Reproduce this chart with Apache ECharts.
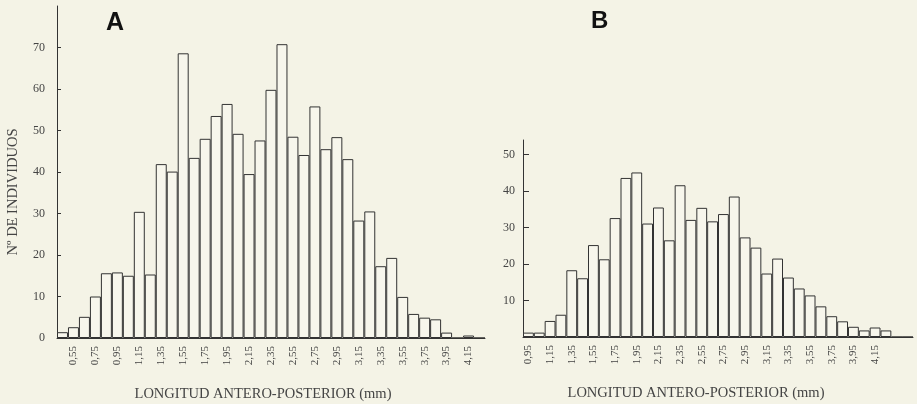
<!DOCTYPE html>
<html>
<head>
<meta charset="utf-8">
<script src="https://cdn.jsdelivr.net/npm/echarts@6/dist/echarts.min.js"></script>
<style>
  html, body { margin: 0; padding: 0; background: #f4f3e6; }
  #chart { width: 917px; height: 404px; }
</style>
</head>
<body>
<div id="chart"></div>
<script>
// clases de longitud (mm), histograma A
var categoriesA = ['0,45', '0,55', '0,65', '0,75', '0,85', '0,95', '1,05', '1,15', '1,25', '1,35',
  '1,45', '1,55', '1,65', '1,75', '1,85', '1,95', '2,05', '2,15', '2,25', '2,35',
  '2,45', '2,55', '2,65', '2,75', '2,85', '2,95', '3,05', '3,15', '3,25', '3,35',
  '3,45', '3,55', '3,65', '3,75', '3,85', '3,95', '4,05', '4,15', '4,25'];
var valuesA = [1.4, 2.6, 5.1, 10, 15.6, 15.8, 15, 30.4, 15.3, 41.9,
  40.1, 68.6, 43.4, 48, 53.5, 56.4, 49.2, 39.5, 47.6, 59.8,
  70.8, 48.5, 44.1, 55.8, 45.5, 48.4, 43.1, 28.3, 30.5, 17.3,
  19.3, 9.9, 5.8, 4.9, 4.5, 1.3, 0, 0.6, 0];
var ticksA = [0, 10, 20, 30, 40, 50, 60, 70];

// histograma B
var categoriesB = ['0,95', '1,05', '1,15', '1,25', '1,35', '1,45', '1,55', '1,65', '1,75', '1,85',
  '1,95', '2,05', '2,15', '2,25', '2,35', '2,45', '2,55', '2,65', '2,75', '2,85',
  '2,95', '3,05', '3,15', '3,25', '3,35', '3,45', '3,55', '3,65', '3,75', '3,85',
  '3,95', '4,05', '4,15', '4,25', '4,35', '4,45'];
var valuesB = [1.2, 1.2, 4.4, 6.1, 18.3, 16.1, 25.2, 21.3, 32.6, 43.6,
  45.1, 31.1, 35.5, 26.5, 41.6, 32.1, 35.4, 31.7, 33.7, 38.5,
  27.3, 24.5, 17.4, 21.5, 16.3, 13.3, 11.4, 8.4, 5.7, 4.3,
  2.8, 1.8, 2.6, 1.8, 0, 0];
var ticksB = [10, 20, 30, 40, 50];

var xTitle = 'LONGITUD ANTERO-POSTERIOR (mm)';
var yTitle = 'Nº DE INDIVIDUOS';

var bg = '#f4f3e6';
var ink = '#333';
var serif = '"Liberation Serif", "DejaVu Serif", serif';
var sans = '"Liberation Sans", Arial, sans-serif';

var chart = echarts.init(document.getElementById('chart'), null, { renderer: 'canvas' });

function xAxisFor(idx, cats, showFn, namePad) {
  return {
    type: 'category',
    gridIndex: idx,
    data: cats,
    axisLine: { show: true, lineStyle: { color: ink, width: 1 } },
    axisTick: { show: false },
    axisLabel: {
      rotate: 90,
      interval: showFn,
      margin: 8,
      color: '#444',
      fontFamily: serif,
      fontSize: 11
    },
    name: xTitle,
    nameLocation: 'middle',
    nameGap: 49,
    nameTextStyle: { color: '#444', fontFamily: serif, fontSize: 14.5, padding: namePad }
  };
}

function yAxisFor(idx, max, ticks, tickLen, labelMargin, withName) {
  var ax = {
    type: 'value',
    gridIndex: idx,
    min: 0,
    max: max,
    axisLine: { show: true, lineStyle: { color: ink, width: 1 } },
    axisTick: { show: true, inside: true, length: tickLen, customValues: ticks, lineStyle: { color: ink } },
    axisLabel: { customValues: ticks, margin: labelMargin, color: '#444', fontFamily: serif, fontSize: 12 },
    splitLine: { show: false }
  };
  if (withName) {
    // el rótulo queda algo por debajo del centro del eje
    ax.name = yTitle;
    ax.nameLocation = 'middle';
    ax.nameGap = 36;
    ax.nameTextStyle = { color: '#444', fontFamily: serif, fontSize: 14.5, padding: [0, 40, 0, 0] };
  }
  return ax;
}

function barSeries(idx, data) {
  return {
    type: 'bar',
    xAxisIndex: idx,
    yAxisIndex: idx,
    data: data,
    barCategoryGap: '0%',
    itemStyle: { color: '#f7f6ec', borderColor: ink, borderWidth: 1 },
    silent: true
  };
}

var option = {
  backgroundColor: bg,
  animation: false,
  title: [
    { text: 'A', left: 101, top: 6, textStyle: { fontFamily: sans, fontWeight: 'bold', fontSize: 25, color: '#111' } },
    { text: 'B', left: 586, top: 4, textStyle: { fontFamily: sans, fontWeight: 'bold', fontSize: 24, color: '#111' } }
  ],
  grid: [
    { left: 57, top: 6, width: 428, bottom: 66, outerBoundsMode: 'none' },
    { left: 523, top: 140, width: 390, bottom: 67, outerBoundsMode: 'none' }
  ],
  xAxis: [
    xAxisFor(0, categoriesA, function (i) { return i % 2 === 1; }, [0, 16, 0, 0]),
    xAxisFor(1, categoriesB, function (i) { return i % 2 === 0 && i <= 32; }, [0, 44, 0, 0])
  ],
  yAxis: [
    yAxisFor(0, 80, ticksA, 4, 12, true),
    yAxisFor(1, 54, ticksB, 6, 8, false)
  ],
  series: [
    barSeries(0, valuesA),
    barSeries(1, valuesB)
  ]
};

chart.setOption(option);
</script>
</body>
</html>
